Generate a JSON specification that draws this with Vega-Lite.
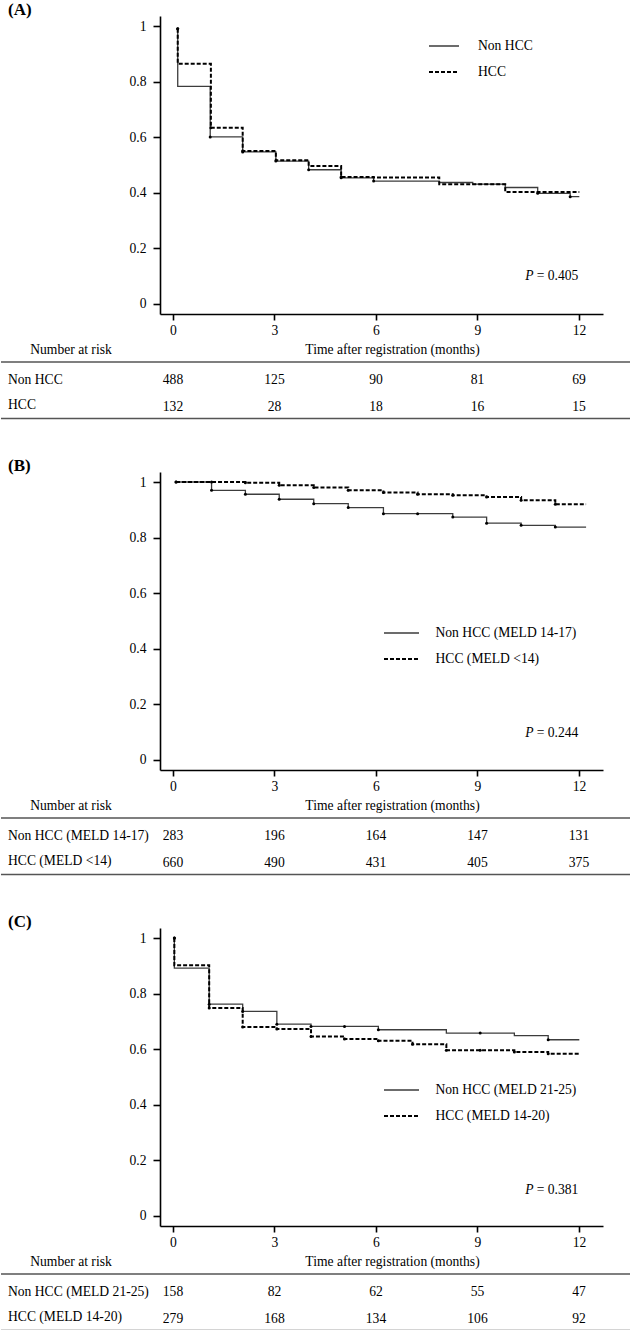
{
"$schema": "https://vega.github.io/schema/vega-lite/v6.json",
"padding": 0,
"autosize": {"type": "pad"},
"background": "white",
"bounds": "flush",
"spacing": 158,
"datasets": {
"km": [
{"panel":"A","group":"Non HCC","i":0,"t":0.14,"s":0.99,"c":1},
{"panel":"A","group":"Non HCC","i":1,"t":0.14,"s":0.783,"c":0},
{"panel":"A","group":"Non HCC","i":2,"t":1.10,"s":0.601,"c":1},
{"panel":"A","group":"Non HCC","i":3,"t":2.06,"s":0.547,"c":1},
{"panel":"A","group":"Non HCC","i":4,"t":3.04,"s":0.514,"c":1},
{"panel":"A","group":"Non HCC","i":5,"t":4.01,"s":0.483,"c":1},
{"panel":"A","group":"Non HCC","i":6,"t":4.97,"s":0.454,"c":1},
{"panel":"A","group":"Non HCC","i":7,"t":5.93,"s":0.442,"c":1},
{"panel":"A","group":"Non HCC","i":8,"t":7.87,"s":0.437,"c":0},
{"panel":"A","group":"Non HCC","i":9,"t":8.86,"s":0.431,"c":0},
{"panel":"A","group":"Non HCC","i":10,"t":9.82,"s":0.419,"c":0},
{"panel":"A","group":"Non HCC","i":11,"t":10.78,"s":0.398,"c":1},
{"panel":"A","group":"Non HCC","i":12,"t":11.74,"s":0.386,"c":1},
{"panel":"A","group":"Non HCC","i":13,"t":12.01,"s":0.386,"c":0},
{"panel":"A","group":"HCC","i":0,"t":0.14,"s":0.99,"c":1},
{"panel":"A","group":"HCC","i":1,"t":0.14,"s":0.864,"c":0},
{"panel":"A","group":"HCC","i":2,"t":1.12,"s":0.634,"c":1},
{"panel":"A","group":"HCC","i":3,"t":2.06,"s":0.550,"c":1},
{"panel":"A","group":"HCC","i":4,"t":3.04,"s":0.517,"c":0},
{"panel":"A","group":"HCC","i":5,"t":4.01,"s":0.496,"c":0},
{"panel":"A","group":"HCC","i":6,"t":4.97,"s":0.457,"c":1},
{"panel":"A","group":"HCC","i":7,"t":5.93,"s":0.455,"c":0},
{"panel":"A","group":"HCC","i":8,"t":7.87,"s":0.4305,"c":0},
{"panel":"A","group":"HCC","i":9,"t":9.82,"s":0.403,"c":0},
{"panel":"A","group":"HCC","i":10,"t":12.01,"s":0.403,"c":0},
{"panel":"B","group":"Non HCC (MELD 14-17)","i":0,"t":0.09,"s":1.0,"c":1},
{"panel":"B","group":"Non HCC (MELD 14-17)","i":1,"t":1.14,"s":0.970,"c":1},
{"panel":"B","group":"Non HCC (MELD 14-17)","i":2,"t":2.14,"s":0.956,"c":1},
{"panel":"B","group":"Non HCC (MELD 14-17)","i":3,"t":3.14,"s":0.938,"c":1},
{"panel":"B","group":"Non HCC (MELD 14-17)","i":4,"t":4.16,"s":0.922,"c":1},
{"panel":"B","group":"Non HCC (MELD 14-17)","i":5,"t":5.18,"s":0.908,"c":1},
{"panel":"B","group":"Non HCC (MELD 14-17)","i":6,"t":6.22,"s":0.886,"c":1},
{"panel":"B","group":"Non HCC (MELD 14-17)","i":7,"t":7.23,"s":0.886,"c":1},
{"panel":"B","group":"Non HCC (MELD 14-17)","i":8,"t":8.27,"s":0.874,"c":1},
{"panel":"B","group":"Non HCC (MELD 14-17)","i":9,"t":9.27,"s":0.852,"c":1},
{"panel":"B","group":"Non HCC (MELD 14-17)","i":10,"t":10.29,"s":0.844,"c":1},
{"panel":"B","group":"Non HCC (MELD 14-17)","i":11,"t":11.30,"s":0.838,"c":1},
{"panel":"B","group":"Non HCC (MELD 14-17)","i":12,"t":12.21,"s":0.838,"c":0},
{"panel":"B","group":"HCC (MELD <14)","i":0,"t":0.09,"s":1.0,"c":1},
{"panel":"B","group":"HCC (MELD <14)","i":1,"t":1.14,"s":1.0,"c":1},
{"panel":"B","group":"HCC (MELD <14)","i":2,"t":2.14,"s":0.997,"c":1},
{"panel":"B","group":"HCC (MELD <14)","i":3,"t":3.14,"s":0.988,"c":1},
{"panel":"B","group":"HCC (MELD <14)","i":4,"t":4.16,"s":0.980,"c":1},
{"panel":"B","group":"HCC (MELD <14)","i":5,"t":5.18,"s":0.970,"c":1},
{"panel":"B","group":"HCC (MELD <14)","i":6,"t":6.22,"s":0.962,"c":1},
{"panel":"B","group":"HCC (MELD <14)","i":7,"t":7.23,"s":0.956,"c":1},
{"panel":"B","group":"HCC (MELD <14)","i":8,"t":8.27,"s":0.952,"c":1},
{"panel":"B","group":"HCC (MELD <14)","i":9,"t":9.27,"s":0.946,"c":1},
{"panel":"B","group":"HCC (MELD <14)","i":10,"t":10.29,"s":0.934,"c":1},
{"panel":"B","group":"HCC (MELD <14)","i":11,"t":11.30,"s":0.920,"c":1},
{"panel":"B","group":"HCC (MELD <14)","i":12,"t":12.21,"s":0.920,"c":0},
{"panel":"C","group":"Non HCC (MELD 21-25)","i":0,"t":0.04,"s":1.0,"c":1},
{"panel":"C","group":"Non HCC (MELD 21-25)","i":1,"t":0.04,"s":0.892,"c":0},
{"panel":"C","group":"Non HCC (MELD 21-25)","i":2,"t":1.07,"s":0.762,"c":1},
{"panel":"C","group":"Non HCC (MELD 21-25)","i":3,"t":2.06,"s":0.736,"c":1},
{"panel":"C","group":"Non HCC (MELD 21-25)","i":4,"t":3.07,"s":0.690,"c":1},
{"panel":"C","group":"Non HCC (MELD 21-25)","i":5,"t":4.08,"s":0.682,"c":1},
{"panel":"C","group":"Non HCC (MELD 21-25)","i":6,"t":5.07,"s":0.682,"c":1},
{"panel":"C","group":"Non HCC (MELD 21-25)","i":7,"t":6.07,"s":0.670,"c":1},
{"panel":"C","group":"Non HCC (MELD 21-25)","i":8,"t":8.08,"s":0.658,"c":0},
{"panel":"C","group":"Non HCC (MELD 21-25)","i":9,"t":9.08,"s":0.658,"c":1},
{"panel":"C","group":"Non HCC (MELD 21-25)","i":10,"t":10.09,"s":0.649,"c":0},
{"panel":"C","group":"Non HCC (MELD 21-25)","i":11,"t":11.09,"s":0.634,"c":1},
{"panel":"C","group":"Non HCC (MELD 21-25)","i":12,"t":12.01,"s":0.634,"c":0},
{"panel":"C","group":"HCC (MELD 14-20)","i":0,"t":0.04,"s":1.0,"c":1},
{"panel":"C","group":"HCC (MELD 14-20)","i":1,"t":0.04,"s":0.902,"c":0},
{"panel":"C","group":"HCC (MELD 14-20)","i":2,"t":1.07,"s":0.748,"c":1},
{"panel":"C","group":"HCC (MELD 14-20)","i":3,"t":2.06,"s":0.680,"c":1},
{"panel":"C","group":"HCC (MELD 14-20)","i":4,"t":3.07,"s":0.673,"c":1},
{"panel":"C","group":"HCC (MELD 14-20)","i":5,"t":4.08,"s":0.646,"c":1},
{"panel":"C","group":"HCC (MELD 14-20)","i":6,"t":5.07,"s":0.637,"c":1},
{"panel":"C","group":"HCC (MELD 14-20)","i":7,"t":6.07,"s":0.630,"c":1},
{"panel":"C","group":"HCC (MELD 14-20)","i":8,"t":7.08,"s":0.618,"c":1},
{"panel":"C","group":"HCC (MELD 14-20)","i":9,"t":8.08,"s":0.596,"c":1},
{"panel":"C","group":"HCC (MELD 14-20)","i":10,"t":9.08,"s":0.596,"c":1},
{"panel":"C","group":"HCC (MELD 14-20)","i":11,"t":10.09,"s":0.590,"c":1},
{"panel":"C","group":"HCC (MELD 14-20)","i":12,"t":11.09,"s":0.584,"c":1},
{"panel":"C","group":"HCC (MELD 14-20)","i":13,"t":12.01,"s":0.584,"c":0}
],
"risk": [
{"panel":"A","group":"Non HCC","t":0,"n":488},{"panel":"A","group":"Non HCC","t":3,"n":125},{"panel":"A","group":"Non HCC","t":6,"n":90},{"panel":"A","group":"Non HCC","t":9,"n":81},{"panel":"A","group":"Non HCC","t":12,"n":69},
{"panel":"A","group":"HCC","t":0,"n":132},{"panel":"A","group":"HCC","t":3,"n":28},{"panel":"A","group":"HCC","t":6,"n":18},{"panel":"A","group":"HCC","t":9,"n":16},{"panel":"A","group":"HCC","t":12,"n":15},
{"panel":"B","group":"Non HCC (MELD 14-17)","t":0,"n":283},{"panel":"B","group":"Non HCC (MELD 14-17)","t":3,"n":196},{"panel":"B","group":"Non HCC (MELD 14-17)","t":6,"n":164},{"panel":"B","group":"Non HCC (MELD 14-17)","t":9,"n":147},{"panel":"B","group":"Non HCC (MELD 14-17)","t":12,"n":131},
{"panel":"B","group":"HCC (MELD <14)","t":0,"n":660},{"panel":"B","group":"HCC (MELD <14)","t":3,"n":490},{"panel":"B","group":"HCC (MELD <14)","t":6,"n":431},{"panel":"B","group":"HCC (MELD <14)","t":9,"n":405},{"panel":"B","group":"HCC (MELD <14)","t":12,"n":375},
{"panel":"C","group":"Non HCC (MELD 21-25)","t":0,"n":158},{"panel":"C","group":"Non HCC (MELD 21-25)","t":3,"n":82},{"panel":"C","group":"Non HCC (MELD 21-25)","t":6,"n":62},{"panel":"C","group":"Non HCC (MELD 21-25)","t":9,"n":55},{"panel":"C","group":"Non HCC (MELD 21-25)","t":12,"n":47},
{"panel":"C","group":"HCC (MELD 14-20)","t":0,"n":279},{"panel":"C","group":"HCC (MELD 14-20)","t":3,"n":168},{"panel":"C","group":"HCC (MELD 14-20)","t":6,"n":134},{"panel":"C","group":"HCC (MELD 14-20)","t":9,"n":106},{"panel":"C","group":"HCC (MELD 14-20)","t":12,"n":92}
]
},
"resolve": {
"scale": {"color": "independent", "strokeDash": "independent", "strokeWidth": "independent"},
"legend": {"color": "independent", "strokeDash": "independent", "strokeWidth": "independent"}
},
"vconcat": [
{
"width": 443, "height": 298,
"layer": [
{"data": {"name": "km"}, "transform": [{"filter": "datum.panel === 'A'"}],
 "mark": {"type": "line", "interpolate": "step-after"},
 "encoding": {
  "x": {"field": "t", "type": "quantitative", "scale": {"domain": [-0.384, 12.71], "nice": false, "zero": false},
        "axis": {"values": [0,3,6,9,12], "format": "d", "title": "Time after registration (months)", "titleX": 232, "titleY": 35, "titleBaseline": "middle", "titleAlign": "center", "labelPadding": 3, "tickSize": 6}},
  "y": {"field": "s", "type": "quantitative", "scale": {"domain": [-0.036, 1.036], "nice": false, "zero": false},
        "axis": {"values": [0,0.2,0.4,0.6,0.8,1], "format": "~g", "title": null, "tickSize": 7, "labelPadding": 7}},
  "order": {"field": "i", "type": "quantitative"},
  "color": {"field": "group", "type": "nominal", "scale": {"domain": ["Non HCC","HCC"], "range": ["#3c3c3c","#000000"]},
            "legend": {"title": null, "orient": "none", "legendX": 268, "legendY": 20, "symbolType": "stroke", "symbolSize": 900, "labelOffset": 18, "clipHeight": 20, "rowPadding": 6, "padding": 0}},
  "strokeDash": {"field": "group", "type": "nominal", "scale": {"domain": ["Non HCC","HCC"], "range": [[1,0],[4,2]]},
            "legend": {"title": null, "orient": "none", "legendX": 268, "legendY": 20, "symbolType": "stroke", "symbolSize": 900, "labelOffset": 18, "clipHeight": 20, "rowPadding": 6, "padding": 0}},
  "strokeWidth": {"field": "group", "type": "nominal", "scale": {"domain": ["Non HCC","HCC"], "range": [1.3,2]},
            "legend": {"title": null, "orient": "none", "legendX": 268, "legendY": 20, "symbolType": "stroke", "symbolSize": 900, "labelOffset": 18, "clipHeight": 20, "rowPadding": 6, "padding": 0}}
 }},
{"data": {"name": "km"}, "transform": [{"filter": "datum.panel === 'A' && datum.c === 1"}],
 "mark": {"type": "point", "filled": true, "size": 9, "color": "#000", "opacity": 1},
 "encoding": {"x": {"field": "t", "type": "quantitative", "title": "Time after registration (months)"}, "y": {"field": "s", "type": "quantitative", "title": null}}},
{"data": {"values": [{}]}, "mark": {"type": "text", "fontSize": 17, "fontWeight": "bold", "align": "left", "baseline": "middle"},
 "encoding": {"x": {"datum": -4.877}, "y": {"datum": 1.0576}, "text": {"value": "(A)"}}},
{"data": {"values": [{}]}, "mark": {"type": "text", "fontStyle": "italic", "align": "right", "baseline": "middle"},
 "encoding": {"x": {"datum": 10.66}, "y": {"datum": 0.1}, "text": {"value": "P"}}},
{"data": {"values": [{}]}, "mark": {"type": "text", "align": "left", "baseline": "middle"},
 "encoding": {"x": {"datum": 10.75}, "y": {"datum": 0.1}, "text": {"value": "= 0.405"}}},
{"data": {"values": [{}]}, "mark": {"type": "text", "align": "center", "baseline": "middle"},
 "encoding": {"x": {"datum": -3.015}, "y": {"datum": -0.165}, "text": {"value": "Number at risk"}}},
{"data": {"values": [{}]}, "mark": {"type": "rule", "color": "#555", "strokeWidth": 1.5},
 "encoding": {"x": {"datum": -5.084}, "x2": {"datum": 13.539}, "y": {"datum": -0.209}}},
{"data": {"values": [{}]}, "mark": {"type": "rule", "color": "#555", "strokeWidth": 1.5},
 "encoding": {"x": {"datum": -5.084}, "x2": {"datum": 13.539}, "y": {"datum": -0.412}}},
{"data": {"name": "risk"}, "transform": [{"filter": "datum.panel === 'A' && datum.group === 'Non HCC'"}],
 "mark": {"type": "text", "align": "center", "baseline": "middle"},
 "encoding": {"x": {"field": "t", "type": "quantitative", "title": "Time after registration (months)"}, "y": {"datum": -0.275}, "text": {"field": "n"}}},
{"data": {"name": "risk"}, "transform": [{"filter": "datum.panel === 'A' && datum.group === 'HCC'"}],
 "mark": {"type": "text", "align": "center", "baseline": "middle"},
 "encoding": {"x": {"field": "t", "type": "quantitative", "title": "Time after registration (months)"}, "y": {"datum": -0.372}, "text": {"field": "n"}}},
{"data": {"name": "risk"}, "transform": [{"filter": "datum.panel === 'A' && datum.group === 'Non HCC' && datum.t === 0"}],
 "mark": {"type": "text", "align": "left", "baseline": "middle"},
 "encoding": {"x": {"datum": -4.877}, "y": {"datum": -0.275}, "text": {"field": "group"}}},
{"data": {"name": "risk"}, "transform": [{"filter": "datum.panel === 'A' && datum.group === 'HCC' && datum.t === 0"}],
 "mark": {"type": "text", "align": "left", "baseline": "middle"},
 "encoding": {"x": {"datum": -4.877}, "y": {"datum": -0.364}, "text": {"field": "group"}}}
]
},
{
"width": 443, "height": 298,
"layer": [
{"data": {"name": "km"}, "transform": [{"filter": "datum.panel === 'B'"}],
 "mark": {"type": "line", "interpolate": "step-after"},
 "encoding": {
  "x": {"field": "t", "type": "quantitative", "scale": {"domain": [-0.384, 12.71], "nice": false, "zero": false},
        "axis": {"values": [0,3,6,9,12], "format": "d", "title": "Time after registration (months)", "titleX": 232, "titleY": 35, "titleBaseline": "middle", "titleAlign": "center", "labelPadding": 3, "tickSize": 6}},
  "y": {"field": "s", "type": "quantitative", "scale": {"domain": [-0.036, 1.036], "nice": false, "zero": false},
        "axis": {"values": [0,0.2,0.4,0.6,0.8,1], "format": "~g", "title": null, "tickSize": 7, "labelPadding": 7}},
  "order": {"field": "i", "type": "quantitative"},
  "color": {"field": "group", "type": "nominal", "scale": {"domain": ["Non HCC (MELD 14-17)","HCC (MELD <14)"], "range": ["#3c3c3c","#000000"]},
            "legend": {"title": null, "orient": "none", "legendX": 223, "legendY": 151, "symbolType": "stroke", "symbolSize": 1225, "labelOffset": 15.5, "clipHeight": 20, "rowPadding": 6, "padding": 0}},
  "strokeDash": {"field": "group", "type": "nominal", "scale": {"domain": ["Non HCC (MELD 14-17)","HCC (MELD <14)"], "range": [[1,0],[4,2]]},
            "legend": {"title": null, "orient": "none", "legendX": 223, "legendY": 151, "symbolType": "stroke", "symbolSize": 1225, "labelOffset": 15.5, "clipHeight": 20, "rowPadding": 6, "padding": 0}},
  "strokeWidth": {"field": "group", "type": "nominal", "scale": {"domain": ["Non HCC (MELD 14-17)","HCC (MELD <14)"], "range": [1.3,2]},
            "legend": {"title": null, "orient": "none", "legendX": 223, "legendY": 151, "symbolType": "stroke", "symbolSize": 1225, "labelOffset": 15.5, "clipHeight": 20, "rowPadding": 6, "padding": 0}}
 }},
{"data": {"name": "km"}, "transform": [{"filter": "datum.panel === 'B' && datum.c === 1"}],
 "mark": {"type": "point", "filled": true, "size": 9, "color": "#000", "opacity": 1},
 "encoding": {"x": {"field": "t", "type": "quantitative", "title": "Time after registration (months)"}, "y": {"field": "s", "type": "quantitative", "title": null}}},
{"data": {"values": [{}]}, "mark": {"type": "text", "fontSize": 17, "fontWeight": "bold", "align": "left", "baseline": "middle"},
 "encoding": {"x": {"datum": -4.877}, "y": {"datum": 1.0576}, "text": {"value": "(B)"}}},
{"data": {"values": [{}]}, "mark": {"type": "text", "fontStyle": "italic", "align": "right", "baseline": "middle"},
 "encoding": {"x": {"datum": 10.66}, "y": {"datum": 0.097}, "text": {"value": "P"}}},
{"data": {"values": [{}]}, "mark": {"type": "text", "align": "left", "baseline": "middle"},
 "encoding": {"x": {"datum": 10.75}, "y": {"datum": 0.097}, "text": {"value": "= 0.244"}}},
{"data": {"values": [{}]}, "mark": {"type": "text", "align": "center", "baseline": "middle"},
 "encoding": {"x": {"datum": -3.015}, "y": {"datum": -0.165}, "text": {"value": "Number at risk"}}},
{"data": {"values": [{}]}, "mark": {"type": "rule", "color": "#555", "strokeWidth": 1.5},
 "encoding": {"x": {"datum": -5.084}, "x2": {"datum": 13.539}, "y": {"datum": -0.209}}},
{"data": {"values": [{}]}, "mark": {"type": "rule", "color": "#555", "strokeWidth": 1.5},
 "encoding": {"x": {"datum": -5.084}, "x2": {"datum": 13.539}, "y": {"datum": -0.412}}},
{"data": {"name": "risk"}, "transform": [{"filter": "datum.panel === 'B' && datum.group === 'Non HCC (MELD 14-17)'"}],
 "mark": {"type": "text", "align": "center", "baseline": "middle"},
 "encoding": {"x": {"field": "t", "type": "quantitative", "title": "Time after registration (months)"}, "y": {"datum": -0.275}, "text": {"field": "n"}}},
{"data": {"name": "risk"}, "transform": [{"filter": "datum.panel === 'B' && datum.group === 'HCC (MELD <14)'"}],
 "mark": {"type": "text", "align": "center", "baseline": "middle"},
 "encoding": {"x": {"field": "t", "type": "quantitative", "title": "Time after registration (months)"}, "y": {"datum": -0.372}, "text": {"field": "n"}}},
{"data": {"name": "risk"}, "transform": [{"filter": "datum.panel === 'B' && datum.group === 'Non HCC (MELD 14-17)' && datum.t === 0"}],
 "mark": {"type": "text", "align": "left", "baseline": "middle"},
 "encoding": {"x": {"datum": -4.877}, "y": {"datum": -0.275}, "text": {"field": "group"}}},
{"data": {"name": "risk"}, "transform": [{"filter": "datum.panel === 'B' && datum.group === 'HCC (MELD <14)' && datum.t === 0"}],
 "mark": {"type": "text", "align": "left", "baseline": "middle"},
 "encoding": {"x": {"datum": -4.877}, "y": {"datum": -0.364}, "text": {"field": "group"}}}
]
},
{
"width": 443, "height": 298,
"layer": [
{"data": {"name": "km"}, "transform": [{"filter": "datum.panel === 'C'"}],
 "mark": {"type": "line", "interpolate": "step-after"},
 "encoding": {
  "x": {"field": "t", "type": "quantitative", "scale": {"domain": [-0.384, 12.71], "nice": false, "zero": false},
        "axis": {"values": [0,3,6,9,12], "format": "d", "title": "Time after registration (months)", "titleX": 232, "titleY": 35, "titleBaseline": "middle", "titleAlign": "center", "labelPadding": 3, "tickSize": 6}},
  "y": {"field": "s", "type": "quantitative", "scale": {"domain": [-0.036, 1.036], "nice": false, "zero": false},
        "axis": {"values": [0,0.2,0.4,0.6,0.8,1], "format": "~g", "title": null, "tickSize": 7, "labelPadding": 7}},
  "order": {"field": "i", "type": "quantitative"},
  "color": {"field": "group", "type": "nominal", "scale": {"domain": ["Non HCC (MELD 21-25)","HCC (MELD 14-20)"], "range": ["#3c3c3c","#000000"]},
            "legend": {"title": null, "orient": "none", "legendX": 223, "legendY": 152, "symbolType": "stroke", "symbolSize": 1225, "labelOffset": 15.5, "clipHeight": 20, "rowPadding": 6, "padding": 0}},
  "strokeDash": {"field": "group", "type": "nominal", "scale": {"domain": ["Non HCC (MELD 21-25)","HCC (MELD 14-20)"], "range": [[1,0],[4,2]]},
            "legend": {"title": null, "orient": "none", "legendX": 223, "legendY": 152, "symbolType": "stroke", "symbolSize": 1225, "labelOffset": 15.5, "clipHeight": 20, "rowPadding": 6, "padding": 0}},
  "strokeWidth": {"field": "group", "type": "nominal", "scale": {"domain": ["Non HCC (MELD 21-25)","HCC (MELD 14-20)"], "range": [1.3,2]},
            "legend": {"title": null, "orient": "none", "legendX": 223, "legendY": 152, "symbolType": "stroke", "symbolSize": 1225, "labelOffset": 15.5, "clipHeight": 20, "rowPadding": 6, "padding": 0}}
 }},
{"data": {"name": "km"}, "transform": [{"filter": "datum.panel === 'C' && datum.c === 1"}],
 "mark": {"type": "point", "filled": true, "size": 9, "color": "#000", "opacity": 1},
 "encoding": {"x": {"field": "t", "type": "quantitative", "title": "Time after registration (months)"}, "y": {"field": "s", "type": "quantitative", "title": null}}},
{"data": {"values": [{}]}, "mark": {"type": "text", "fontSize": 17, "fontWeight": "bold", "align": "left", "baseline": "middle"},
 "encoding": {"x": {"datum": -4.877}, "y": {"datum": 1.0576}, "text": {"value": "(C)"}}},
{"data": {"values": [{}]}, "mark": {"type": "text", "fontStyle": "italic", "align": "right", "baseline": "middle"},
 "encoding": {"x": {"datum": 10.66}, "y": {"datum": 0.094}, "text": {"value": "P"}}},
{"data": {"values": [{}]}, "mark": {"type": "text", "align": "left", "baseline": "middle"},
 "encoding": {"x": {"datum": 10.75}, "y": {"datum": 0.094}, "text": {"value": "= 0.381"}}},
{"data": {"values": [{}]}, "mark": {"type": "text", "align": "center", "baseline": "middle"},
 "encoding": {"x": {"datum": -3.015}, "y": {"datum": -0.165}, "text": {"value": "Number at risk"}}},
{"data": {"values": [{}]}, "mark": {"type": "rule", "color": "#555", "strokeWidth": 1.5},
 "encoding": {"x": {"datum": -5.084}, "x2": {"datum": 13.539}, "y": {"datum": -0.209}}},
{"data": {"values": [{}]}, "mark": {"type": "rule", "color": "#555", "strokeWidth": 1.5},
 "encoding": {"x": {"datum": -5.084}, "x2": {"datum": 13.539}, "y": {"datum": -0.412}}},
{"data": {"name": "risk"}, "transform": [{"filter": "datum.panel === 'C' && datum.group === 'Non HCC (MELD 21-25)'"}],
 "mark": {"type": "text", "align": "center", "baseline": "middle"},
 "encoding": {"x": {"field": "t", "type": "quantitative", "title": "Time after registration (months)"}, "y": {"datum": -0.275}, "text": {"field": "n"}}},
{"data": {"name": "risk"}, "transform": [{"filter": "datum.panel === 'C' && datum.group === 'HCC (MELD 14-20)'"}],
 "mark": {"type": "text", "align": "center", "baseline": "middle"},
 "encoding": {"x": {"field": "t", "type": "quantitative", "title": "Time after registration (months)"}, "y": {"datum": -0.372}, "text": {"field": "n"}}},
{"data": {"name": "risk"}, "transform": [{"filter": "datum.panel === 'C' && datum.group === 'Non HCC (MELD 21-25)' && datum.t === 0"}],
 "mark": {"type": "text", "align": "left", "baseline": "middle"},
 "encoding": {"x": {"datum": -4.877}, "y": {"datum": -0.275}, "text": {"field": "group"}}},
{"data": {"name": "risk"}, "transform": [{"filter": "datum.panel === 'C' && datum.group === 'HCC (MELD 14-20)' && datum.t === 0"}],
 "mark": {"type": "text", "align": "left", "baseline": "middle"},
 "encoding": {"x": {"datum": -4.877}, "y": {"datum": -0.364}, "text": {"field": "group"}}}
]
}
],
"config": {
"view": {"stroke": null},
"font": "Liberation Serif",
"axis": {"grid": false, "domainColor": "#000", "domainWidth": 1.6, "tickColor": "#000", "tickWidth": 1.6,
         "labelFont": "Liberation Serif", "labelFontSize": 13.6, "labelColor": "#000",
         "titleFont": "Liberation Serif", "titleFontSize": 13.6, "titleFontWeight": "normal", "titleColor": "#000"},
"legend": {"labelFont": "Liberation Serif", "labelFontSize": 13.6, "labelColor": "#000", "labelLimit": 300},
"text": {"font": "Liberation Serif", "fontSize": 13.6, "color": "#000"}
}
}
